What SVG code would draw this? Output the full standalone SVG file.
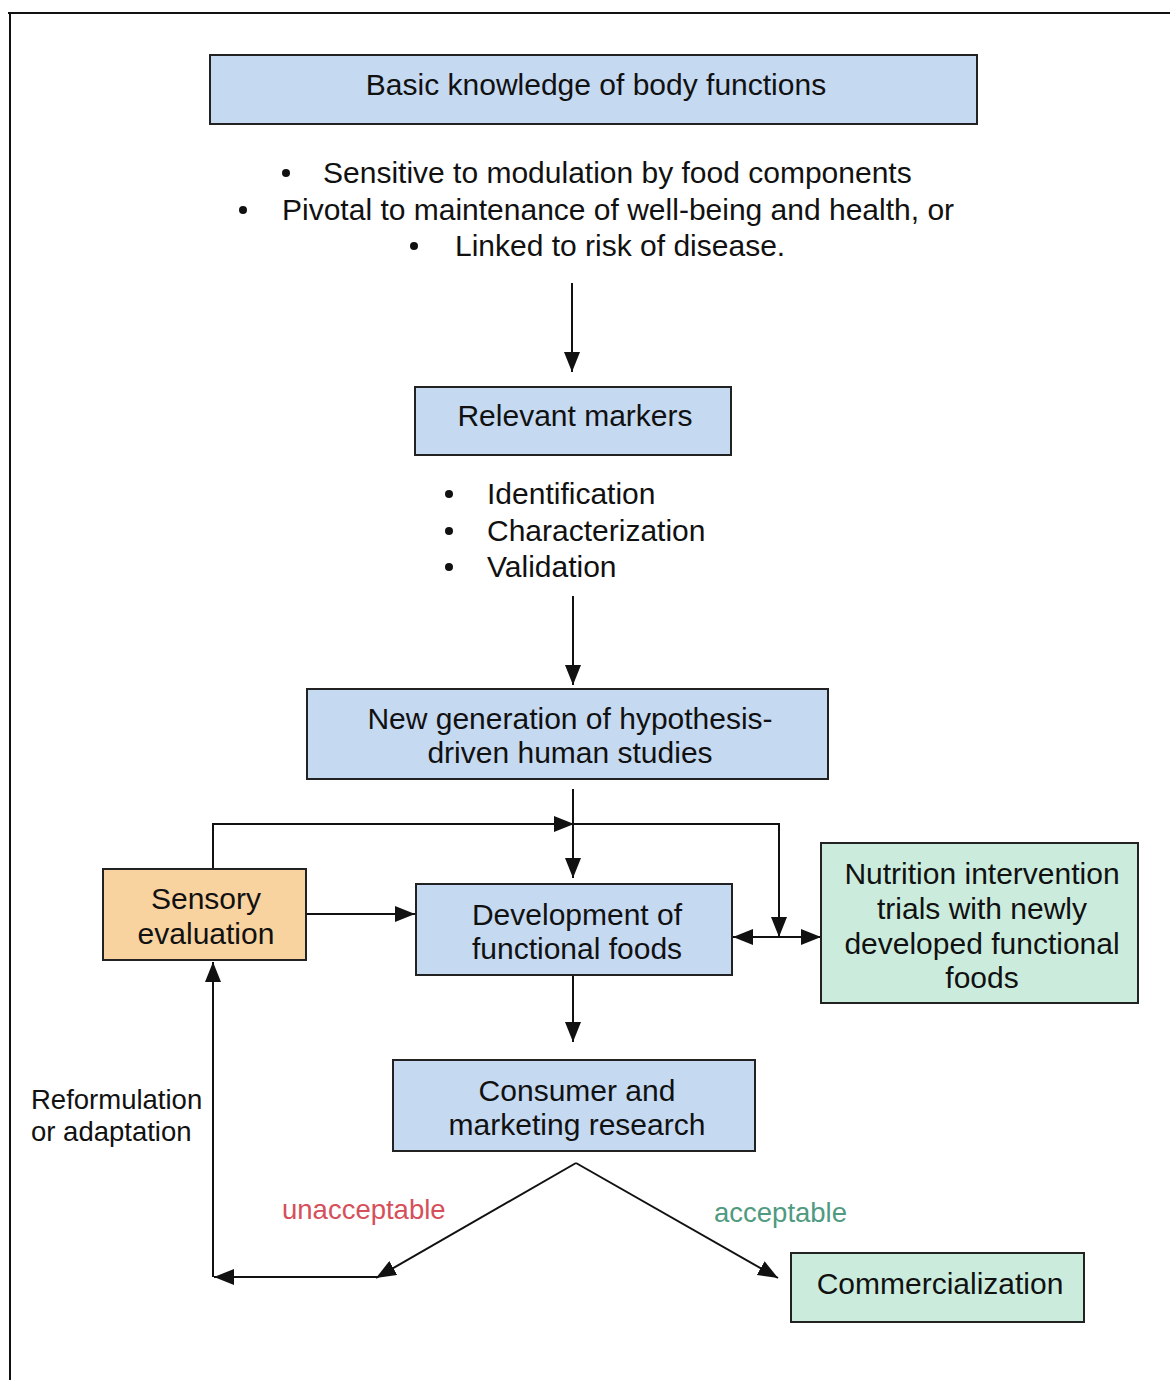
<svg xmlns="http://www.w3.org/2000/svg" width="1170" height="1380" viewBox="0 0 1170 1380">
<style>
.box{stroke:#222;stroke-width:2}
.blue{fill:#c5d9f1}
.orange{fill:#f9d39f}
.green{fill:#cbecdd}
text{font-family:"Liberation Sans",Arial,sans-serif;fill:#111}
.t{font-size:30px;text-anchor:middle}
.b{font-size:30px}
.s{font-size:27.5px}
.ln{stroke:#111;stroke-width:2;fill:none}
</style>
<defs>
<marker id="ah" viewBox="0 0 20 16" refX="20" refY="8" markerWidth="20" markerHeight="16" markerUnits="userSpaceOnUse" orient="auto">
<path d="M0,0 L20,8 L0,16 Z" fill="#111"/>
</marker>
</defs>
<rect width="1170" height="1380" fill="#fff"/>
<g id="frame">
<path class="ln" d="M8,13 H1170 M10,13 V1380"/>
</g>
<g id="connectors">
<path class="ln" d="M572,283 V372" marker-end="url(#ah)"/>
<path class="ln" d="M573,596 V685" marker-end="url(#ah)"/>
<path class="ln" d="M573,789 V878" marker-end="url(#ah)"/>
<path class="ln" d="M213,869 V824 H574" marker-end="url(#ah)"/>
<path class="ln" d="M573,824 H779 V937" marker-end="url(#ah)"/>
<path class="ln" d="M306,914 H415" marker-end="url(#ah)"/>
<path class="ln" d="M776,937 H733" marker-end="url(#ah)"/>
<path class="ln" d="M776,937 H821" marker-end="url(#ah)"/>
<path class="ln" d="M573,975 V1042" marker-end="url(#ah)"/>
<path class="ln" d="M576,1163 L376,1278" marker-end="url(#ah)"/>
<path class="ln" d="M378,1277 H214" marker-end="url(#ah)"/>
<path class="ln" d="M213,1277 V962" marker-end="url(#ah)"/>
<path class="ln" d="M576,1163 L778,1278" marker-end="url(#ah)"/>
</g>
<g id="basic">
<rect class="box blue" x="210" y="55" width="767" height="69"/>
<text class="t" x="596" y="95">Basic knowledge of body functions</text>
</g>
<g id="basic-bullets">
<circle cx="286" cy="173" r="4" fill="#111"/>
<text class="b" x="323" y="183">Sensitive to modulation by food components</text>
<circle cx="243" cy="210" r="4" fill="#111"/>
<text class="b" x="282" y="220">Pivotal to maintenance of well-being and health, or</text>
<circle cx="414" cy="246" r="4" fill="#111"/>
<text class="b" x="455" y="256">Linked to risk of disease.</text>
</g>
<g id="markers">
<rect class="box blue" x="415" y="387" width="316" height="68"/>
<text class="t" x="575" y="426">Relevant markers</text>
</g>
<g id="marker-bullets">
<circle cx="449" cy="494" r="4" fill="#111"/>
<text class="b" x="487" y="504">Identification</text>
<circle cx="449" cy="531" r="4" fill="#111"/>
<text class="b" x="487" y="541">Characterization</text>
<circle cx="449" cy="567" r="4" fill="#111"/>
<text class="b" x="487" y="577">Validation</text>
</g>
<g id="newgen">
<rect class="box blue" x="307" y="689" width="521" height="90"/>
<text class="t" x="570" y="729">New generation of hypothesis-</text>
<text class="t" x="570" y="763">driven human studies</text>
</g>
<g id="sensory">
<rect class="box orange" x="103" y="869" width="203" height="91"/>
<text class="t" x="206" y="909">Sensory</text>
<text class="t" x="206" y="944">evaluation</text>
</g>
<g id="development">
<rect class="box blue" x="416" y="884" width="316" height="91"/>
<text class="t" x="577" y="925">Development of</text>
<text class="t" x="577" y="959">functional foods</text>
</g>
<g id="nutrition">
<rect class="box green" x="821" y="843" width="317" height="160"/>
<text class="t" x="982" y="884">Nutrition intervention</text>
<text class="t" x="982" y="919">trials with newly</text>
<text class="t" x="982" y="954">developed functional</text>
<text class="t" x="982" y="988">foods</text>
</g>
<g id="consumer">
<rect class="box blue" x="393" y="1060" width="362" height="91"/>
<text class="t" x="577" y="1101">Consumer and</text>
<text class="t" x="577" y="1135">marketing research</text>
</g>
<g id="commercialization">
<rect class="box green" x="791" y="1253" width="293" height="69"/>
<text class="t" x="940" y="1294">Commercialization</text>
</g>
<g id="labels">
<text class="s" x="31" y="1109">Reformulation</text>
<text class="s" x="31" y="1141">or adaptation</text>
<text class="s" x="282" y="1219" style="fill:#d5505a">unacceptable</text>
<text class="s" x="714" y="1222" style="fill:#4f9a80">acceptable</text>
</g>
</svg>
